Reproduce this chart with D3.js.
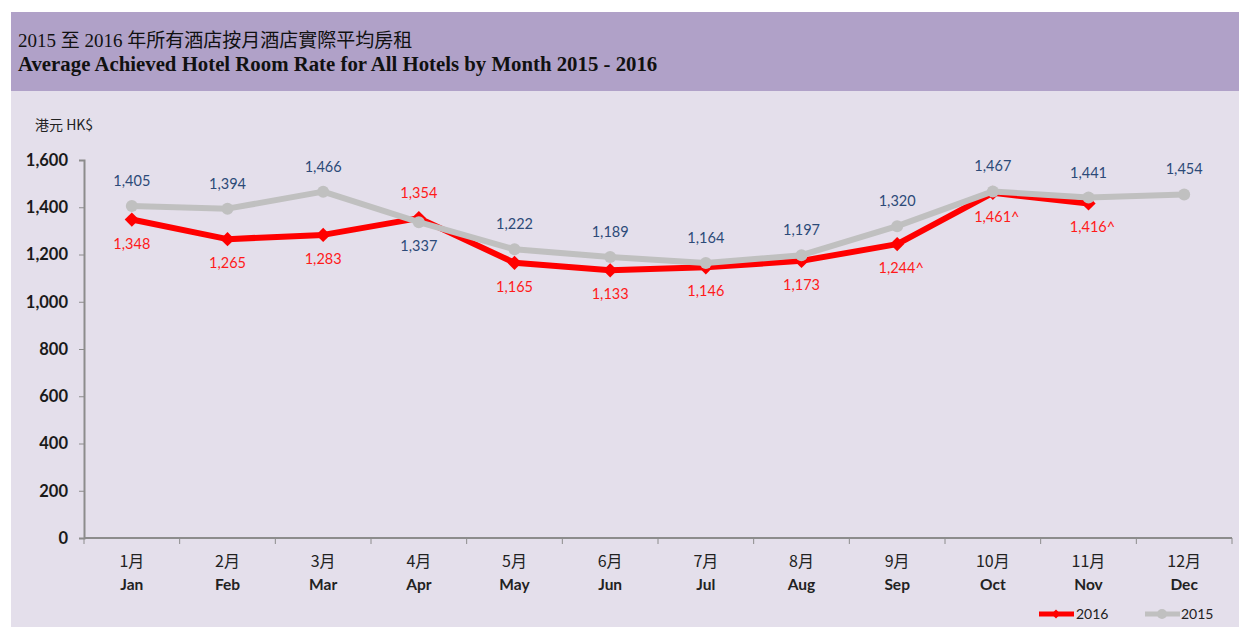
<!DOCTYPE html>
<html>
<head>
<meta charset="utf-8">
<script src="https://cdn.jsdelivr.net/npm/d3@7"></script>
<style>
  body { margin: 0; background: #fff; }
  svg { display: block; }
</style>
</head>
<body>
<svg id="chart" width="1239" height="627"></svg>
<script>
const monthsZh = ["1月","2月","3月","4月","5月","6月","7月","8月","9月","10月","11月","12月"]
const monthsEn = ["Jan","Feb","Mar","Apr","May","Jun","Jul","Aug","Sep","Oct","Nov","Dec"]
const rate2015 = [1405, 1394, 1466, 1337, 1222, 1189, 1164, 1197, 1320, 1467, 1441, 1454]
const rate2016 = [1348, 1265, 1283, 1354, 1165, 1133, 1146, 1173, 1244, 1461, 1416, null]
const flag2016 = ["", "", "", "", "", "", "", "", "^", "^", "^", ""]
const yTicks = [0, 200, 400, 600, 800, 1000, 1200, 1400, 1600]

const svg = d3.select("#chart")
const W = 1239, H = 627
const plotL = 84, plotR = 1232, plotT = 160, plotB = 538

// panels
svg.append("rect").attr("x", 11).attr("y", 12).attr("width", W - 11).attr("height", H - 12).attr("fill", "#e4dfeb")
svg.append("rect").attr("x", 11).attr("y", 12).attr("width", W - 11).attr("height", 79).attr("fill", "#b0a1c8")

svg.append("text").attr("x", 18).attr("y", 47)
  .attr("font-family", "'Liberation Serif', 'Noto Sans CJK TC', serif")
  .attr("font-size", 19).attr("fill", "#111")
  .text("2015 至 2016 年所有酒店按月酒店實際平均房租")
svg.append("text").attr("x", 18).attr("y", 71)
  .attr("font-family", "'Liberation Serif', serif").attr("font-weight", "bold")
  .attr("font-size", 20.8).attr("fill", "#111")
  .text("Average Achieved Hotel Room Rate for All Hotels by Month 2015 - 2016")

svg.append("text").attr("x", 35).attr("y", 130)
  .attr("font-family", "'Noto Sans CJK TC', 'Open Sans', sans-serif")
  .attr("font-size", 14).attr("fill", "#222")
  .text("港元 HK$")

const x = d3.scaleBand().domain(monthsEn).range([plotL, plotR])
const y = d3.scaleLinear().domain([0, 1600]).range([plotB, plotT])

// y axis
const yAxis = svg.append("g").attr("transform", `translate(${plotL},0)`)
  .call(d3.axisLeft(y).tickValues(yTicks).tickFormat(d3.format(",")).tickSize(5).tickPadding(11))
yAxis.select(".domain").attr("stroke", "#8c8c8c").attr("stroke-width", 2)
yAxis.selectAll(".tick line").attr("stroke", "#8c8c8c")
yAxis.selectAll(".tick text")
  .attr("font-family", "Lato, 'Open Sans', sans-serif").attr("font-weight", "bold")
  .attr("font-size", 16.5).attr("fill", "#1a1a1a")

// x axis
const xAxis = svg.append("g").attr("transform", `translate(0,${plotB})`)
xAxis.append("line").attr("x1", plotL).attr("x2", plotR).attr("y1", 0).attr("y2", 0)
  .attr("stroke", "#8c8c8c").attr("stroke-width", 2)
const bounds = monthsEn.map(m => x(m)).concat([plotR])
xAxis.selectAll("line.tk").data(bounds).join("line").attr("class", "tk")
  .attr("x1", d => d).attr("x2", d => d).attr("y1", 0).attr("y2", 6)
  .attr("stroke", "#8c8c8c")
xAxis.selectAll("text.zh").data(monthsZh).join("text").attr("class", "zh")
  .attr("x", (d, i) => x(monthsEn[i]) + x.bandwidth() / 2).attr("y", 29)
  .attr("text-anchor", "middle")
  .attr("font-family", "'Noto Sans CJK TC', sans-serif").attr("font-size", 16).attr("fill", "#222")
  .text(d => d)
xAxis.selectAll("text.en").data(monthsEn).join("text").attr("class", "en")
  .attr("x", d => x(d) + x.bandwidth() / 2).attr("y", 52)
  .attr("text-anchor", "middle")
  .attr("font-family", "Lato, 'Open Sans', sans-serif").attr("font-weight", "bold")
  .attr("font-size", 15.5).attr("fill", "#222")
  .text(d => d)

const cx = i => x(monthsEn[i]) + x.bandwidth() / 2
const line = d3.line().defined(d => d != null).x((d, i) => cx(i)).y(d => y(d))

// 2016 series (red, under)
svg.append("path").datum(rate2016).attr("d", line)
  .attr("fill", "none").attr("stroke", "#ff0000").attr("stroke-width", 6).attr("stroke-linejoin", "round")
const diamond = d3.symbol().type(d3.symbolDiamond2).size(130)
svg.selectAll("path.d16").data(rate2016.map((v, i) => ({v, i})).filter(d => d.v != null)).join("path")
  .attr("class", "d16").attr("d", diamond)
  .attr("transform", d => `translate(${cx(d.i)},${y(d.v)})`).attr("fill", "#ff0000")

// 2015 series (gray, on top)
svg.append("path").datum(rate2015).attr("d", line)
  .attr("fill", "none").attr("stroke", "#c0c0c0").attr("stroke-width", 6).attr("stroke-linejoin", "round")
svg.selectAll("circle.d15").data(rate2015).join("circle").attr("class", "d15")
  .attr("cx", (d, i) => cx(i)).attr("cy", d => y(d)).attr("r", 6).attr("fill", "#c0c0c0")

// labels
const fmt = d3.format(",")
svg.selectAll("text.l15").data(rate2015).join("text").attr("class", "l15")
  .attr("x", (d, i) => cx(i))
  .attr("y", (d, i) => rate2016[i] != null && rate2016[i] > d ? y(d) + 29 : y(d) - 20)
  .attr("text-anchor", "middle")
  .attr("font-family", "Lato, 'Open Sans', sans-serif").attr("font-size", 14.5).attr("fill", "#2c4a78")
  .text(d => fmt(d))
svg.selectAll("text.l16").data(rate2016.map((v, i) => ({v, i})).filter(d => d.v != null)).join("text")
  .attr("class", "l16")
  .attr("x", d => cx(d.i) + (flag2016[d.i] ? 4 : 0))
  .attr("y", d => d.v > rate2015[d.i] ? y(d.v) - 20 : y(d.v) + 29)
  .attr("text-anchor", "middle")
  .attr("font-family", "Lato, 'Open Sans', sans-serif").attr("font-size", 14.5).attr("fill", "#ff1a1a")
  .text(d => fmt(d.v) + flag2016[d.i])

// legend
const lg = svg.append("g").attr("font-family", "Lato, 'Open Sans', sans-serif").attr("font-size", 14).attr("fill", "#222")
lg.append("line").attr("x1", 1039).attr("x2", 1074).attr("y1", 614).attr("y2", 614)
  .attr("stroke", "#ff0000").attr("stroke-width", 5)
lg.append("path").attr("d", d3.symbol().type(d3.symbolDiamond2).size(50)).attr("transform", "translate(1056,614)").attr("fill", "#ff0000")
lg.append("text").attr("x", 1076).attr("y", 619).text("2016")
lg.append("line").attr("x1", 1145).attr("x2", 1180).attr("y1", 614).attr("y2", 614)
  .attr("stroke", "#c0c0c0").attr("stroke-width", 5)
lg.append("circle").attr("cx", 1162).attr("cy", 614).attr("r", 5).attr("fill", "#c0c0c0")
lg.append("text").attr("x", 1181).attr("y", 619).text("2015")
</script>
</body>
</html>
